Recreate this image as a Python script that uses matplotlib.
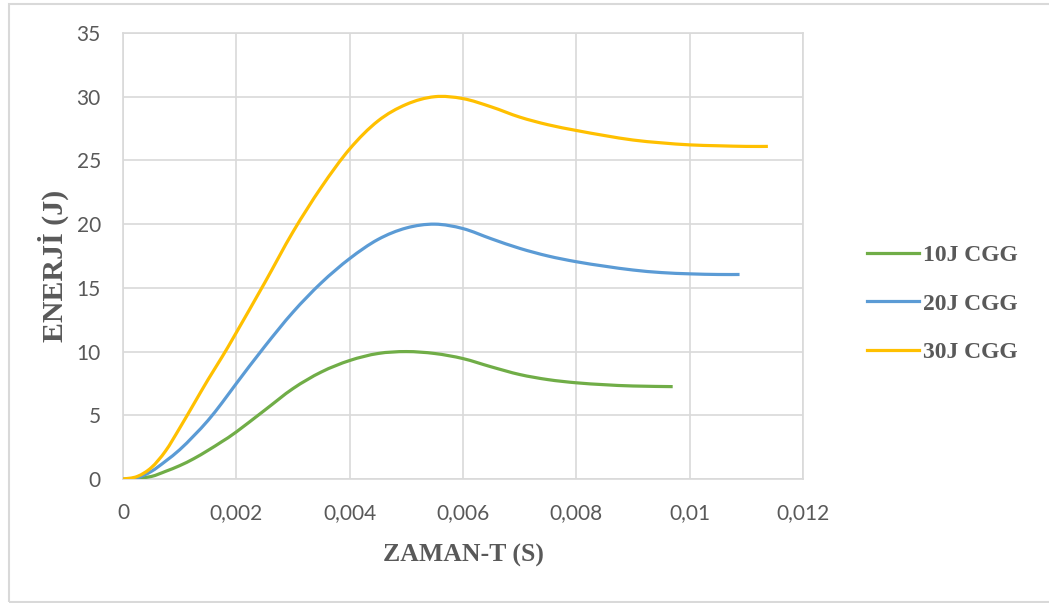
import matplotlib
matplotlib.use("Agg")
import matplotlib.pyplot as plt
from matplotlib.patches import Rectangle, PathPatch
from matplotlib.path import Path
from matplotlib.lines import Line2D

# Energía absorbida frente al tiempo para cada ensayo de impacto
# ---------------------------------------------------------------------------
t_10j = [0.0002, 0.0005, 0.00075, 0.001, 0.00125, 0.0015, 0.00175, 0.002,
         0.0025, 0.003, 0.0035, 0.004, 0.0045, 0.005, 0.0055, 0.006,
         0.0065, 0.007, 0.0075, 0.008, 0.0085, 0.009, 0.0097]
e_10j = [0.0, 0.2, 0.6, 1.05, 1.6, 2.25, 2.95, 3.7,
         5.4, 7.1, 8.4, 9.3, 9.85, 10.0, 9.85, 9.45,
         8.8, 8.2, 7.8, 7.55, 7.4, 7.3, 7.25]

t_20j = [0.0, 0.00025, 0.0005, 0.00075, 0.001, 0.00125, 0.0015, 0.00175,
         0.002, 0.0025, 0.003, 0.0035, 0.004, 0.0045, 0.005, 0.0055,
         0.006, 0.0065, 0.007, 0.0075, 0.008, 0.0085, 0.009, 0.0095,
         0.01, 0.0105, 0.01088]
e_20j = [0.0, 0.1, 0.6, 1.4, 2.3, 3.4, 4.6, 6.0,
         7.5, 10.4, 13.1, 15.4, 17.3, 18.8, 19.7, 20.0,
         19.65, 18.85, 18.1, 17.5, 17.05, 16.7, 16.4, 16.2,
         16.1, 16.05, 16.05]

t_30j = [0.0, 0.00025, 0.0005, 0.00075, 0.001, 0.00125, 0.0015, 0.00175,
         0.002, 0.0025, 0.003, 0.0035, 0.004, 0.0045, 0.005, 0.0055,
         0.006, 0.0065, 0.007, 0.0075, 0.008, 0.0085, 0.009, 0.0095,
         0.01, 0.0105, 0.011, 0.01138]
e_30j = [0.0, 0.2, 0.9, 2.2, 4.0, 5.9, 7.8, 9.6,
         11.5, 15.4, 19.4, 22.9, 25.9, 28.1, 29.4, 30.0,
         29.85, 29.2, 28.4, 27.8, 27.35, 26.95, 26.6, 26.38,
         26.22, 26.15, 26.1, 26.1]

x_ticks = [0, 0.002, 0.004, 0.006, 0.008, 0.01, 0.012]
x_tick_labels = ["0", "0,002", "0,004", "0,006", "0,008", "0,01", "0,012"]
y_ticks = [0, 5, 10, 15, 20, 25, 30, 35]

series = [
    (t_10j, e_10j, "10J CGG", "#70AD47"),
    (t_20j, e_20j, "20J CGG", "#5B9BD5"),
    (t_30j, e_30j, "30J CGG", "#FFC000"),
]

GRIS_TEXTO = "#595959"
GRIS_GRILLA = "#D9D9D9"
SERIF = ["Liberation Serif", "DejaVu Serif"]


def trazo_suave(xs, ys):
    """Path con curvas de Bezier que pasan por los puntos (linea suavizada)"""
    pts = list(zip(xs, ys))
    verts = [pts[0]]
    codes = [Path.MOVETO]
    n = len(pts)
    for i in range(n - 1):
        p0 = pts[max(i - 1, 0)]
        p1 = pts[i]
        p2 = pts[i + 1]
        p3 = pts[min(i + 2, n - 1)]
        c1 = (p1[0] + (p2[0] - p0[0]) / 6, p1[1] + (p2[1] - p0[1]) / 6)
        c2 = (p2[0] - (p3[0] - p1[0]) / 6, p2[1] - (p3[1] - p1[1]) / 6)
        verts += [c1, c2, p2]
        codes += [Path.CURVE4] * 3
    return Path(verts, codes)


fig = plt.figure(figsize=(10.49, 6.03), dpi=100)
ax = fig.add_axes([0.1173, 0.2056, 0.6482, 0.7397])

handles = []
for t, e, nombre, color in series:
    ax.add_patch(PathPatch(trazo_suave(t, e), facecolor="none", edgecolor=color,
                           linewidth=2.3, capstyle="butt", zorder=3))
    handles.append(Line2D([], [], color=color, linewidth=2.3, label=nombre))

ax.set_xlim(0, 0.012)
ax.set_ylim(0, 35)
ax.set_xticks(x_ticks)
ax.set_xticklabels(x_tick_labels)
ax.set_yticks(y_ticks)
ax.grid(True, color=GRIS_GRILLA, linewidth=1.2)
ax.set_axisbelow(True)
for s in ax.spines.values():
    s.set_color(GRIS_GRILLA)
    s.set_linewidth(1.2)

ax.tick_params(axis="both", length=0, labelsize=15, labelcolor=GRIS_TEXTO)
ax.tick_params(axis="y", pad=16)
ax.tick_params(axis="x", pad=17)
for lbl in ax.get_xticklabels() + ax.get_yticklabels():
    lbl.set_family("Lato")

ax.set_xlabel("ZAMAN-T (S)", fontsize=18.5, fontweight="bold", color=GRIS_TEXTO,
              family=SERIF, labelpad=15)
ax.set_ylabel("ENERJİ (J)", fontsize=21.5, fontweight="bold", color=GRIS_TEXTO,
              family=SERIF)
ax.yaxis.set_label_coords(-0.08, 0.478)

leg = ax.legend(handles=handles, loc="center left", bbox_to_anchor=(0.806, 0.496),
                bbox_transform=fig.transFigure, frameon=False,
                handlelength=2.2, handletextpad=0.2, labelspacing=1.15,
                prop={"family": SERIF, "weight": "bold", "size": 17})
for txt in leg.get_texts():
    txt.set_color(GRIS_TEXTO)

# marco exterior del grafico
fig.patches.append(Rectangle((9 / 1049, 1 / 603), 1.1, 598 / 603,
                             transform=fig.transFigure, fill=False,
                             edgecolor=GRIS_GRILLA, linewidth=1.5))

fig.savefig("out.png", dpi=100)
